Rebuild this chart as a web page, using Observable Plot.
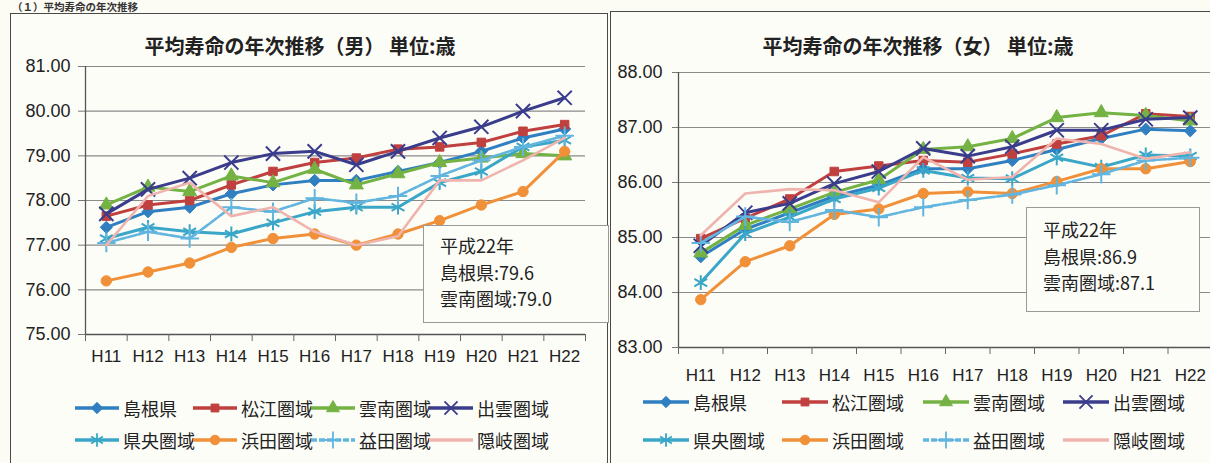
<!DOCTYPE html>
<html><head><meta charset="utf-8">
<script src="https://cdn.jsdelivr.net/npm/d3@7"></script>
<script src="https://cdn.jsdelivr.net/npm/@observablehq/plot@0.6"></script>
<style>
html,body{margin:0;padding:0;background:#fcfbf4;overflow:hidden;width:1210px;height:463px;}
#page{position:relative;width:1210px;height:463px;overflow:hidden;font-family:"Noto Sans CJK JP",sans-serif;color:#222;}
.box{position:absolute;border:1.6px solid #4a4a4a;background:#fdfdf8;}
.title{position:absolute;font-size:20px;font-weight:700;white-space:nowrap;transform:translate(-50%,-50%);color:#222;}
.heading{position:absolute;left:12px;top:1px;font-size:10.5px;line-height:11px;font-weight:700;white-space:nowrap;color:#333;}
.chart{position:absolute;overflow:visible;}
.chart svg{max-width:none !important;}
.note{position:absolute;border:1.3px solid #999;background:#fdfdf8;font-size:18px;line-height:26.5px;padding:6px 0 0 16px;box-sizing:border-box;white-space:nowrap;}
.leg{position:absolute;display:flex;align-items:center;height:24px;font-size:18px;white-space:nowrap;}
.leg svg{margin-right:4px;}
</style>
</head><body>
<div id="page"></div>
<script>
// ---- categories / tick labels ----
const years = ["H11","H12","H13","H14","H15","H16","H17","H18","H19","H20","H21","H22"];
const regions = ["島根県","松江圏域","雲南圏域","出雲圏域","県央圏域","浜田圏域","益田圏域","隠岐圏域"];
const maleTicks = [75, 76, 77, 78, 79, 80, 81];
const femaleTicks = [83, 84, 85, 86, 87, 88];

// ---- male life expectancy (years) ----
const maleShimane = [77.40, 77.75, 77.85, 78.15, 78.35, 78.45, 78.45, 78.65, 78.85, 79.10, 79.40, 79.60];
const maleMatsue  = [77.65, 77.90, 78.00, 78.35, 78.65, 78.85, 78.95, 79.15, 79.20, 79.30, 79.55, 79.70];
const maleUnnan   = [77.90, 78.30, 78.20, 78.55, 78.40, 78.70, 78.35, 78.60, 78.85, 78.95, 79.05, 79.00];
const maleIzumo   = [77.70, 78.25, 78.50, 78.85, 79.05, 79.10, 78.80, 79.10, 79.40, 79.65, 80.00, 80.30];
const maleKenou   = [77.15, 77.40, 77.30, 77.25, 77.50, 77.75, 77.85, 77.85, 78.40, 78.65, 79.20, 79.35];
const maleHamada  = [76.20, 76.40, 76.60, 76.95, 77.15, 77.25, 77.00, 77.25, 77.55, 77.90, 78.20, 79.10];
const maleMasuda  = [77.05, 77.30, 77.15, 77.85, 77.75, 78.05, 77.95, 78.10, 78.55, 78.90, 79.20, 79.45];
const maleOki     = [77.00, 78.10, 78.40, 77.65, 77.85, 77.30, 77.00, 77.20, 78.45, 78.45, 78.90, 79.40];

// ---- female life expectancy (years) ----
const femaleShimane = [84.65, 85.15, 85.45, 85.75, 85.95, 86.25, 86.25, 86.40, 86.60, 86.80, 86.97, 86.94];
const femaleMatsue  = [84.98, 85.35, 85.70, 86.20, 86.30, 86.40, 86.37, 86.52, 86.70, 86.85, 87.25, 87.20];
const femaleUnnan   = [84.72, 85.22, 85.52, 85.82, 86.05, 86.60, 86.65, 86.80, 87.18, 87.27, 87.22, 87.12];
const femaleIzumo   = [84.85, 85.45, 85.62, 85.98, 86.20, 86.62, 86.48, 86.65, 86.95, 86.95, 87.15, 87.18];
const femaleKenou   = [84.18, 85.07, 85.37, 85.70, 85.90, 86.22, 86.08, 86.07, 86.45, 86.28, 86.50, 86.48];
const femaleHamada  = [83.87, 84.56, 84.85, 85.42, 85.52, 85.80, 85.83, 85.80, 86.02, 86.25, 86.25, 86.38];
const femaleMasuda  = [84.90, 85.38, 85.28, 85.50, 85.37, 85.55, 85.68, 85.78, 85.95, 86.15, 86.40, 86.45];
const femaleOki     = [85.04, 85.80, 85.88, 85.86, 85.64, 86.46, 86.05, 86.10, 86.80, 86.70, 86.43, 86.55];

// ---- texts ----
const headingText = "（１）平均寿命の年次推移";
const maleTitle = "平均寿命の年次推移（男） 単位:歳";
const femaleTitle = "平均寿命の年次推移（女） 単位:歳";
const maleNote = ["平成22年", "島根県:79.6", "雲南圏域:79.0"];
const femaleNote = ["平成22年", "島根県:86.9", "雲南圏域:87.1"];

// ---- styles ----
const colors  = ["#2f7fc1", "#c0403f", "#74b244", "#3a3c8c", "#3aa6c8", "#f0913a", "#62b5df", "#f0b4ae"];
const symbols = ["diamond2", "square", "triangle", "times", "asterisk", "circle", "plus", null];
const d3sym   = {diamond2: d3.symbolDiamond2, square: d3.symbolSquare, triangle: d3.symbolTriangle,
                 times: d3.symbolTimes, asterisk: d3.symbolAsterisk, circle: d3.symbolCircle, plus: d3.symbolPlus};
const filled  = [true, true, true, false, false, true, false, false];
const sizes   = [5.5, 4.8, 5.2, 6.5, 7, 5.2, 6, 0];
const widths  = [3, 3, 3, 3, 3, 3, 2.6, 2.6];
const dashes  = [null, null, null, null, null, null, "9,2", null];

const page = document.getElementById("page");

function el(cls, css, html) {
  const d = document.createElement("div");
  d.className = cls;
  Object.assign(d.style, css);
  if (html != null) d.innerHTML = html;
  page.appendChild(d);
  return d;
}

function makeChart(series, ticks, o) {
  const rows = [];
  regions.forEach((r, k) => series[k].forEach((v, i) => rows.push({region: r, k, i: i + 0.5, value: v})));
  const yMin = ticks[0], yMax = ticks[ticks.length - 1];
  const marks = [
    Plot.gridY(ticks, {stroke: "#8a8a8a", strokeOpacity: 1, strokeWidth: 1.1}),
    Plot.axisY(ticks, {tickSize: o.tickY, tickPadding: o.padY, tickFormat: d => d.toFixed(2),
      fontSize: 18, label: null, stroke: "#777", fill: "#222"}),
    Plot.ruleX([0], {stroke: "#555", strokeWidth: 1.3}),
    Plot.ruleY([yMin], {stroke: "#555", strokeWidth: 1.3}),
    Plot.axisX(d3.range(0, years.length + 1), {tickSize: 7, tickFormat: () => "", label: null, stroke: "#666"}),
    Plot.axisX(years.map((y, i) => i + 0.5), {tickSize: 0, tickPadding: o.padX,
      tickFormat: d => years[Math.floor(d)], fontSize: 17, label: null, fill: "#222"})
  ];
  regions.forEach((r, k) => {
    const d = rows.filter(q => q.k === k);
    marks.push(Plot.line(d, {x: "i", y: "value", stroke: colors[k], strokeWidth: widths[k],
      strokeDasharray: dashes[k] || undefined, strokeLinejoin: "round"}));
    if (symbols[k]) {
      marks.push(Plot.dot(d, {x: "i", y: "value", symbol: symbols[k], r: sizes[k],
        fill: filled[k] ? colors[k] : "none", stroke: colors[k], strokeWidth: filled[k] ? 1 : 2}));
    }
  });
  const svg = Plot.plot({
    width: o.width, height: o.height,
    marginLeft: o.ml, marginRight: o.mr, marginTop: o.mt, marginBottom: o.mb,
    x: {domain: [0, years.length]},
    y: {domain: [yMin, yMax]},
    style: {background: "transparent", fontFamily: "'Liberation Sans', Arial, sans-serif", fontSize: "18px", overflow: "visible", maxWidth: "none"},
    marks
  });
  svg.style.maxWidth = "none";
  svg.style.width = o.width + "px";
  svg.style.height = o.height + "px";
  const wrap = el("chart", {left: o.left + "px", top: o.top + "px", width: o.width + "px", height: o.height + "px"});
  wrap.appendChild(svg);
}

function legend(cols, rowsY, swW) {
  regions.forEach((r, k) => {
    const x = cols[k % 4], y = rowsY[Math.floor(k / 4)];
    const d = el("leg", {left: x + "px", top: (y - 12) + "px"});
    const s = d3.create("svg").attr("width", swW).attr("height", 20);
    s.append("line").attr("x1", 0).attr("x2", swW).attr("y1", 10).attr("y2", 10)
      .attr("stroke", colors[k]).attr("stroke-width", 3.5)
      .attr("stroke-dasharray", dashes[k] ? "6,2" : null);
    if (symbols[k]) {
      s.append("path").attr("transform", `translate(${swW / 2},10)`)
        .attr("d", d3.symbol(d3sym[symbols[k]], Math.PI * sizes[k] * sizes[k] * 0.85)())
        .attr("fill", filled[k] ? colors[k] : "none").attr("stroke", colors[k]).attr("stroke-width", filled[k] ? 1 : 1.8);
    }
    d.appendChild(s.node());
    const t = document.createElement("span");
    t.textContent = r;
    d.appendChild(t);
  });
}

// heading (small, above the frames)
el("heading", {}, headingText);

// chart frames
el("box", {left: "10px", top: "13px", width: "596px", height: "470px"});
el("box", {left: "610px", top: "11px", width: "620px", height: "470px"});

// titles
el("title", {left: "300px", top: "45px"}, maleTitle);
el("title", {left: "918px", top: "45px"}, femaleTitle);

// male chart
makeChart([maleShimane, maleMatsue, maleUnnan, maleIzumo, maleKenou, maleHamada, maleMasuda, maleOki],
  maleTicks, {left: 0, top: 50, width: 610, height: 325, ml: 85, mr: 25, mt: 16, mb: 41, tickY: 7, padY: 8, padX: 15});

// female chart
makeChart([femaleShimane, femaleMatsue, femaleUnnan, femaleIzumo, femaleKenou, femaleHamada, femaleMasuda, femaleOki],
  femaleTicks, {left: 610, top: 50, width: 620, height: 342, ml: 68, mr: 18, mt: 22, mb: 45, tickY: 6, padY: 10, padX: 21});

// annotation boxes
el("note", {left: "423px", top: "225px", width: "186px", height: "98px"}, maleNote.join("<br>"));
el("note", {left: "1026px", top: "207px", width: "174px", height: "105px", paddingTop: "8px"}, femaleNote.join("<br>"));

// legends
legend([75, 193, 311, 429], [408, 440], 44);
legend([643, 782, 923, 1063], [402, 440], 46);
</script>
</body></html>
